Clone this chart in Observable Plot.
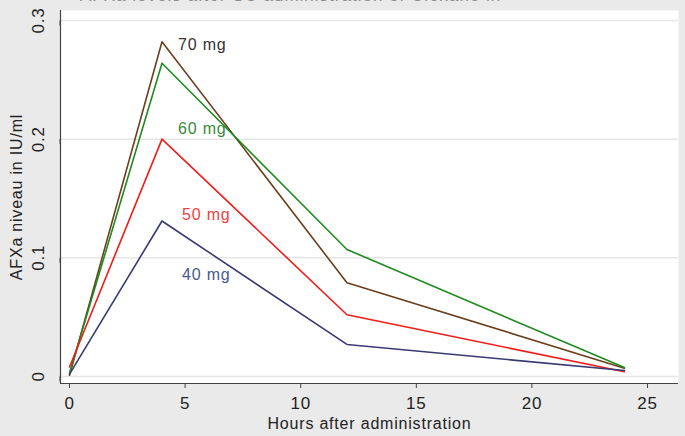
<!DOCTYPE html>
<html>
<head>
<meta charset="utf-8">
<script src="https://cdn.jsdelivr.net/npm/d3@7"></script>
<script src="https://cdn.jsdelivr.net/npm/@observablehq/plot@0.6"></script>
<style>
  html, body { margin: 0; padding: 0; background: #eaeaea; }
  #wrap { position: relative; width: 685px; height: 436px; overflow: hidden; background: #eaeaea; font-family: "Liberation Sans", Arial, sans-serif; }
  #title { position: absolute; left: 80px; top: -14px; font-size: 17px; color: #8a8a8a; white-space: nowrap; letter-spacing: 1px; }
  #chart { position: absolute; left: 0; top: 0; }
  #chart svg text { letter-spacing: 0.8px; }
</style>
</head>
<body>
<div id="wrap">
  <div id="title">AFXa levels after SC administration of Clexane in</div>
  <div id="chart"></div>
</div>
<script>
// Data
const hours = [0, 4, 12, 24];
const doses = ["70 mg", "60 mg", "50 mg", "40 mg"];
const afxa70 = [0.001, 0.282, 0.079, 0.007];
const afxa60 = [0.003, 0.264, 0.107, 0.0075];
const afxa50 = [0.008, 0.200, 0.052, 0.004];
const afxa40 = [0.002, 0.131, 0.027, 0.005];
const xTicks = [0, 5, 10, 15, 20, 25];
const yTicks = [0, 0.1, 0.2, 0.3];
const yTickLabels = ["0", "0.1", "0.2", "0.3"];
const xTitle = "Hours after administration";
const yTitle = "AFXa niveau in IU/ml";

const seriesValues = [afxa70, afxa60, afxa50, afxa40];
const lineColors = ["#6b3f1c", "#1f8a1f", "#f01c1c", "#3a3a72"];
const labelColors = ["#333333", "#3a8a3a", "#f04040", "#4a5a8c"];
// label offsets relative to the 4-hour peak of each series (pixels)
const labelOffsets = [[16, 3], [16, 66], [20, 76], [20, 54]];

const rows = [];
doses.forEach((d, i) => hours.forEach((h, j) => rows.push({dose: d, hour: h, value: seriesValues[i][j]})));

const xDomain = [-0.39, 26.34];
const yDomain = [-0.0059, 0.3084];

const marks = [
  Plot.frame({fill: "white", stroke: "none"}),
  Plot.ruleY(yTicks, {stroke: "#e6e6e6", strokeWidth: 1.5}),
  Plot.ruleX([xDomain[0]], {stroke: "#444", strokeWidth: 1.2}),
  Plot.ruleY([yDomain[0]], {stroke: "#444", strokeWidth: 1.2}),
  Plot.axisX({ticks: xTicks, tickSize: 5, tickPadding: 8, fontSize: 17, stroke: "#444", fill: "#222", label: null}),
  Plot.axisY({ticks: yTicks, tickSize: 5, tickPadding: 17, fontSize: 17, stroke: "#444", fill: "#222",
    tickFormat: (d) => yTickLabels[yTicks.indexOf(d)], rotate: -90, textAnchor: "middle", label: null}),
  Plot.text([xTitle], {frameAnchor: "bottom", lineAnchor: "middle", textAnchor: "middle", dy: 40, fontSize: 16, fill: "#222"}),
  Plot.text([yTitle], {frameAnchor: "left", lineAnchor: "middle", textAnchor: "middle", rotate: -90, dx: -44, fontSize: 16, fill: "#222"})
];
doses.forEach((d, i) => {
  marks.push(Plot.line(rows.filter(r => r.dose === d), {x: "hour", y: "value", stroke: lineColors[i], strokeWidth: 1.6}));
});
doses.forEach((d, i) => {
  marks.push(Plot.text(rows.filter(r => r.dose === d && r.hour === 4), {
    x: "hour", y: "value", text: "dose", textAnchor: "start",
    dx: labelOffsets[i][0], dy: labelOffsets[i][1], fill: labelColors[i], fontSize: 16
  }));
});

const chart = Plot.plot({
  width: 685,
  height: 436,
  marginLeft: 60,
  marginRight: 7,
  marginTop: 10,
  marginBottom: 53,
  style: {background: "transparent", fontFamily: "Liberation Sans, Arial, sans-serif"},
  x: {domain: xDomain},
  y: {domain: yDomain},
  marks
});
document.getElementById("chart").appendChild(chart);
</script>
</body>
</html>
